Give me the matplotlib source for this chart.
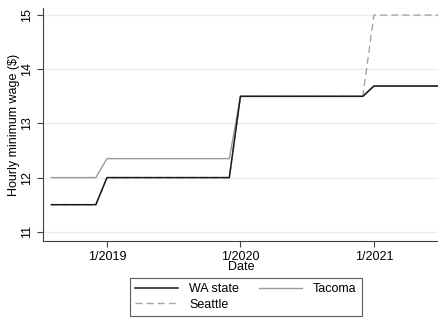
import numpy as np
import matplotlib
matplotlib.use("Agg")
import matplotlib.pyplot as plt

plt.rcParams['font.family'] = ['Liberation Sans', 'DejaVu Sans']

# monthly series, Aug 2018 .. Jul 2021 (right edge is cut off)
months = [(y, m) for y in range(2018, 2022) for m in range(1, 13)]
months = [ym for ym in months if (2018, 8) <= ym <= (2021, 7)]
t = np.array([y * 12 + (m - 1) for y, m in months])

wa_rate = {2018: 11.5, 2019: 12.0, 2020: 13.5, 2021: 13.69}
tacoma_rate = {2018: 12.0, 2019: 12.35, 2020: 13.5, 2021: 13.69}
seattle_rate = {2018: 11.5, 2019: 12.0, 2020: 13.5, 2021: 15.0}

wa = np.array([wa_rate[y] for y, m in months])
tacoma = np.array([tacoma_rate[y] for y, m in months])
seattle = np.array([seattle_rate[y] for y, m in months])

tick_pos = [2019 * 12, 2020 * 12, 2021 * 12]
tick_lab = ['1/2019', '1/2020', '1/2021']

fig = plt.figure(figsize=(4.39, 3.18), dpi=100)
ax = fig.add_axes([43 / 439, 77 / 318, 1 - 43 / 439, 233 / 318])

for yv in range(11, 16):
    ax.axhline(yv, color='#e6eef0', lw=0.9, zorder=0)

ax.plot(t, seattle, color='#a6a6a6', lw=1.0, ls=(0, (5, 3)), label='Seattle', zorder=2)
ax.plot(t, tacoma, color='#9a9a9a', lw=1.0, label='Tacoma', zorder=3)
ax.plot(t, wa, color='#1a1a1a', lw=1.1, label='WA state', zorder=4)

ax.set_xlim(2018 * 12 + 6.25, 2021 * 12 + 5.85)
ax.set_ylim(10.83, 15.13)
ax.set_xticks(tick_pos)
ax.set_xticklabels(tick_lab)
ax.set_yticks(range(11, 16))
ax.set_yticklabels([str(v) for v in range(11, 16)], rotation=90, va='center')
ax.tick_params(labelsize=9, length=4, width=0.8, color='#404040', pad=3)
for s in ['top', 'right']:
    ax.spines[s].set_visible(False)
for s in ['left', 'bottom']:
    ax.spines[s].set_color('#404040')
    ax.spines[s].set_linewidth(0.8)
ax.set_xlabel('Date', fontsize=9, labelpad=-1)
ax.set_ylabel('Hourly minimum wage ($)', fontsize=9, labelpad=1)

h, l = ax.get_legend_handles_labels()
# column-major fill: WA state, Seattle | Tacoma
order = [2, 0, 1]
leg = fig.legend([h[i] for i in order], [l[i] for i in order], ncol=2,
                 loc='lower center', bbox_to_anchor=(246 / 439, 1 / 318),
                 fontsize=9, frameon=True, fancybox=False, handlelength=3.4,
                 columnspacing=1.6, borderpad=0.4, labelspacing=0.3,
                 handletextpad=0.9, borderaxespad=0.1)
leg.get_frame().set_edgecolor('#333333')
leg.get_frame().set_linewidth(0.8)

fig.savefig('out.png', dpi=100)
